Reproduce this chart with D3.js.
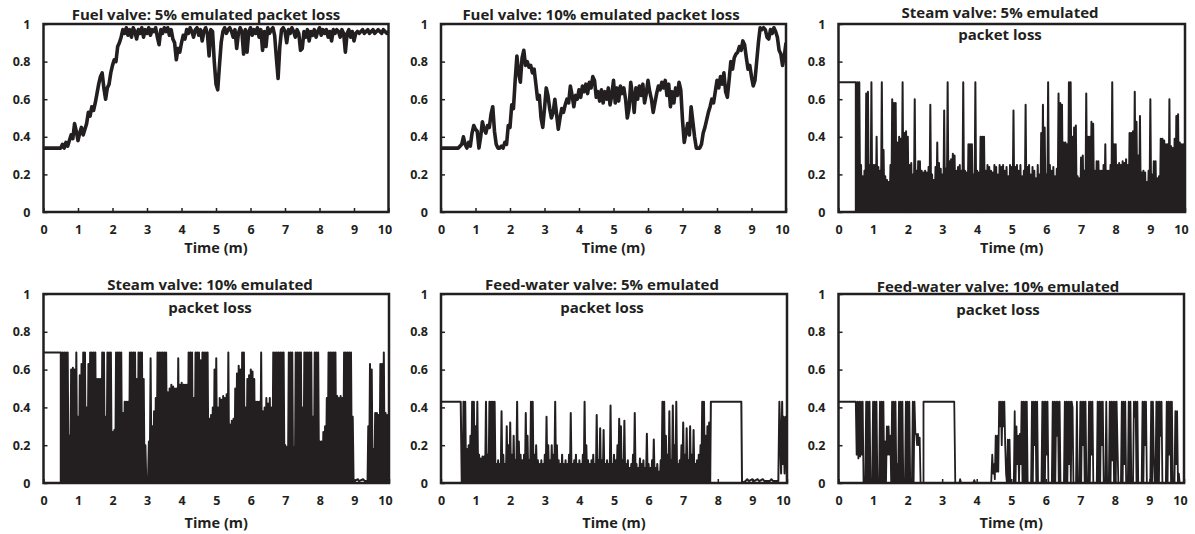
<!DOCTYPE html>
<html>
<head>
<meta charset="utf-8">
<script src="https://cdn.jsdelivr.net/npm/d3@7"></script>
<style>
  body { margin: 0; background: #fff; }
  svg text { font-family: "Open Sans", Lato, sans-serif; font-weight: 700; fill: #231f20; }
</style>
</head>
<body>
<div id="chart"></div>
<script>
// ---- data ----
const xTicks = [0, 1, 2, 3, 4, 5, 6, 7, 8, 9, 10];
const yTicks = [0, 0.2, 0.4, 0.6, 0.8, 1];
const xLabel = "Time (m)";

const titles = [
  ["Fuel valve: 5% emulated packet loss"],
  ["Fuel valve: 10% emulated packet loss"],
  ["Steam valve: 5% emulated", "packet loss"],
  ["Steam valve: 10% emulated", "packet loss"],
  ["Feed-water valve: 5% emulated", "packet loss"],
  ["Feed-water valve: 10% emulated", "packet loss"]
];

// fuel valve position, one sample every 0.05 min from t = 0
const fuel5Pos = [
  .34,.34,.34,.34,.34,.34,.34,.34,.34,.34,
  .34,.36,.34,.37,.35,.38,.41,.39,.47,.43,
  .38,.42,.45,.41,.44,.47,.53,.51,.56,.54,
  .58,.63,.68,.72,.74,.66,.60,.66,.68,.74,
  .78,.81,.80,.88,.90,.93,.97,.95,.98,.94,
  .97,.93,.98,.96,.92,.97,.95,.98,.93,.97,
  .95,.98,.94,.97,.96,.98,.93,.89,.97,.95,
  .98,.96,.98,.94,.97,.92,.90,.81,.87,.85,
  .90,.94,.92,.97,.95,.98,.96,.93,.97,.98,
  .94,.97,.91,.96,.98,.95,.83,.97,.96,.80,
  .68,.65,.78,.90,.96,.98,.95,.97,.98,.96,
  .93,.97,.87,.95,.98,.96,.84,.97,.85,.96,
  .98,.94,.97,.95,.98,.93,.97,.86,.96,.88,
  .98,.95,.97,.98,.94,.82,.71,.88,.97,.98,
  .96,.90,.97,.95,.98,.96,.93,.97,.95,.86,
  .87,.96,.93,.97,.91,.96,.94,.97,.93,.96,
  .98,.94,.97,.95,.97,.93,.96,.91,.97,.95,
  .97,.96,.93,.97,.95,.85,.95,.97,.93,.96,
  .91,.95,.96,.95,.96,.97,.95,.96,.97,.95,
  .96,.97,.95,.96,.97,.96,.95,.97,.96,.95,
  .96
];

const fuel10Pos = [
  .34,.34,.34,.34,.34,.34,.34,.34,.34,.34,
  .34,.35,.36,.40,.36,.34,.37,.35,.42,.46,
  .44,.43,.34,.40,.48,.44,.42,.46,.45,.52,
  .56,.43,.36,.34,.34,.35,.34,.37,.36,.46,
  .45,.57,.55,.70,.83,.74,.69,.82,.86,.78,
  .80,.77,.78,.74,.76,.68,.60,.62,.50,.45,
  .55,.66,.62,.55,.50,.53,.60,.52,.44,.50,
  .55,.53,.57,.60,.58,.67,.62,.56,.62,.60,
  .65,.61,.67,.64,.68,.63,.69,.66,.72,.70,
  .61,.64,.59,.65,.58,.64,.60,.66,.57,.62,
  .70,.58,.66,.59,.67,.63,.66,.60,.50,.55,
  .69,.62,.53,.66,.60,.67,.62,.68,.58,.63,
  .70,.64,.60,.53,.58,.63,.67,.65,.69,.66,
  .70,.62,.68,.56,.64,.58,.66,.62,.69,.65,
  .49,.37,.42,.47,.41,.56,.48,.40,.34,.34,
  .34,.36,.42,.45,.49,.53,.56,.60,.58,.64,
  .70,.66,.72,.68,.74,.64,.61,.70,.80,.76,
  .82,.84,.85,.88,.86,.91,.89,.82,.76,.78,
  .72,.67,.70,.80,.90,.98,.97,.98,.97,.93,
  .92,.97,.95,.98,.96,.93,.86,.84,.78,.83,
  .90
];

// steam valve: hold, then pulses (peak every 0.05 min, falling back to 0 between)
const steam5Lead = [[0, 0.69], [0.5, 0.69], [0.5, 0], [0.54, 0]];
const steam5Peaks = [
  .69,.69,.25,.19,.22,.63,.64,.25,.69,.25,
  .25,.40,.24,.22,.69,.33,.19,.17,.16,.25,
  .60,.58,.58,.37,.40,.39,.69,.42,.43,.40,
  .25,.26,.20,.60,.22,.27,.27,.22,.21,.22,
  .21,.24,.57,.20,.17,.24,.37,.26,.23,.20,
  .54,.23,.69,.27,.28,.31,.30,.22,.24,.25,
  .22,.69,.22,.21,.36,.36,.36,.20,.69,.22,
  .21,.40,.40,.40,.22,.25,.24,.22,.21,.25,
  .24,.20,.25,.24,.25,.22,.24,.19,.25,.24,
  .54,.24,.25,.22,.25,.19,.22,.57,.24,.25,
  .20,.24,.22,.18,.25,.20,.42,.57,.45,.20,
  .69,.25,.22,.24,.19,.23,.63,.58,.57,.37,
  .37,.36,.69,.69,.40,.45,.46,.19,.18,.29,
  .30,.22,.63,.40,.40,.48,.47,.22,.27,.27,
  .22,.22,.25,.36,.22,.22,.25,.69,.36,.36,
  .25,.26,.25,.27,.26,.28,.25,.42,.42,.43,
  .64,.48,.30,.51,.21,.22,.21,.16,.22,.60,
  .20,.27,.27,.18,.19,.39,.39,.38,.36,.36,
  .60,.35,.34,.39,.51,.52,.37,.36,.36,.03
];

const steam10Lead = [[0, 0.69], [0.5, 0.69], [0.5, 0], [0.54, 0]];
const steam10PeaksA = [
  .69,.69,.69,.69,.25,.60,.61,.60,.69,.35,
  .57,.63,.69,.69,.40,.63,.69,.69,.69,.69,
  .55,.55,.55,.69,.69,.35,.69,.69,.69,.27,
  .28,.69,.69,.69,.69,.37,.43,.43,.43,.69,
  .69,.69,.69,.55,.69,.69,.69,.55,.20,.02,
  .22,.66,.30,.38,.45,.69,.69,.69,.69,.69,
  .69,.48,.50,.52,.51,.50,.50,.66,.52,.53,
  .52,.52,.52,.69,.69,.69,.45,.69,.69,.69,
  .65,.69,.69,.69,.69,.34,.36,.40,.60,.66,
  .40,.45,.44,.46,.45,.47,.69,.31,.33,.34,
  .50,.58,.62,.60,.69,.69,.40,.55,.57,.60,
  .59,.55,.43,.43,.43,.69,.38,.40,.45,.42,
  .45,.40,.69,.69,.69,.69,.69,.69,.69,.20,
  .19,.69,.69,.69,.19,.69,.69,.69,.69,.40,
  .69,.69,.69,.69,.69,.35,.69,.69,.69,.22,
  .22,.27,.30,.45,.69,.69,.69,.69,.69,.46,
  .45,.46,.45,.69,.69,.69,.69,.69,.35
];
const steam10Gap = [[9.0, 0.01], [9.1, 0.02], [9.13, 0.01], [9.25, 0.02], [9.3, 0.01], [9.38, 0.01]];
const steam10PeaksB = [.30,.63,.60,.18,.37,.37,.36,.63,.63,.69,.37,.36];
const steam10Tail = [[10, 0]];

// feed-water valve
const feed5Lead = [[0, 0.43], [0.57, 0.43], [0.6, 0]];
const feed5Peaks = [
  .20,.43,.43,.18,.20,.25,.43,.43,.30,.43,
  .15,.13,.14,.14,.43,.15,.43,.43,.43,.43,
  .10,.12,.10,.38,.15,.10,.30,.20,.32,.15,
  .25,.12,.43,.22,.15,.12,.15,.37,.25,.12,
  .43,.43,.15,.20,.12,.10,.12,.10,.15,.35,
  .20,.12,.20,.15,.43,.20,.12,.10,.15,.10,
  .12,.10,.15,.37,.10,.12,.15,.10,.12,.10,
  .15,.43,.20,.12,.10,.12,.15,.10,.36,.12,
  .29,.12,.28,.10,.12,.10,.41,.10,.15,.12,
  .20,.34,.30,.12,.33,.10,.12,.08,.10,.15,
  .37,.10,.08,.13,.10,.12,.08,.26,.10,.08,
  .12,.23,.08,.10,.06,.12,.43,.43,.25,.15,
  .38,.12,.41,.20,.43,.10,.12,.20,.32,.15,
  .29,.12,.30,.15,.28,.10,.12,.15,.20,.43,
  .43,.25,.30,.32
];
const feed5Tail = [
  [7.78, 0], [7.8, 0.43], [8.68, 0.43], [8.7, 0], [8.8, 0.01], [8.85, 0.02], [8.9, 0.01],
  [9.0, 0.02], [9.05, 0.01], [9.15, 0.02], [9.2, 0.01], [9.3, 0.02], [9.35, 0.01],
  [9.5, 0.01], [9.55, 0.02], [9.6, 0.01], [9.75, 0.01], [9.78, 0.43], [9.83, 0.05],
  [9.86, 0.43], [9.88, 0.1], [9.9, 0.35], [9.93, 0.05], [9.96, 0.35], [10, 0]
];

// feed-water 10%: high/low pairs every 0.05 min
const feed10Lead = [[0, 0.43], [0.48, 0.43]];
const feed10PairsA = [
  .43,.15, .43,.13, .43,.14, .43,.15, .43,0, .03,0, .43,0, .43,0, .43,0, 0,0,
  .43,0, .43,0, .43,0, 0,0, .43,0, .43,0, .43,0, .22,0, .30,.15, .30,.15,
  .25,0, .43,0, .43,0, .43,0, .10,0, .43,0, .43,0, .43,0, 0,0, .43,0,
  .43,0, .43,0, 0,0, .43,0, .43,.26, .26,.20, .26,.20, .24,0
];
const feed10Gap = [
  [2.42, 0], [2.46, 0], [2.46, 0.43], [3.35, 0.43], [3.38, 0], [3.5, 0], [3.52, 0.02],
  [3.55, 0], [3.9, 0], [3.93, 0.015], [3.96, 0], [4.42, 0]
];
const feed10PairsB = [
  .15,.05, .10,.02, .25,.06, .25,.06, .43,.30, .43,.20, .43,.30, .43,.20, .05,0, .23,0,
  .23,0, 0,0, 0,0, .38,0, .30,.10, .25,0, .26,.10, .43,0, .43,0, .43,0,
  .43,0, 0,0, 0,0, .43,0, .43,.20, .43,0, .43,0, 0,0, 0,0, .43,0,
  .43,0, .43,.15, .43,0, 0,0, 0,0, .43,0, .43,0, .43,.25, .43,0, .43,0,
  0,0, 0,0, .43,0, .43,0, .43,.10, .43,0, .43,.40, 0,0, 0,0, .43,0,
  0,0, .43,0, .43,.20, .43,0, .43,0, 0,0, .43,0, .43,.15, .43,0, 0,0,
  0,0, .43,0, .43,0, .43,.20, .43,0, 0,0, .43,0, 0,0, .43,0, .43,.12,
  .43,0, .43,0, .43,.20, 0,0, 0,0, .43,0, .43,.10, .43,0, 0,0, .43,0,
  .43,0, 0,0, .43,.35, .43,0, .43,0, 0,0, 0,0, .43,0, .43,.20, .43,0,
  0,0, 0,0, .43,0, .43,.15, 0,0, .43,0, .43,0, .43,.25, .43,0, 0,0,
  0,0, .43,0, .43,.15, .43,0, .43,0, 0,0, .38,.10, .38,0, .05,0, 0,0,
  0,0, 0
];

// ---- series assembly ----
const series = [
  [{ start: 0, step: 0.05, values: fuel5Pos }],
  [{ start: 0, step: 0.05, values: fuel10Pos }],
  [{ points: steam5Lead }, { start: 0.55, step: 0.05, peaks: steam5Peaks, floor: 0 }],
  [{ points: steam10Lead }, { start: 0.55, step: 0.05, peaks: steam10PeaksA, floor: 0 },
   { points: steam10Gap }, { start: 9.4, step: 0.05, peaks: steam10PeaksB, floor: 0 },
   { points: steam10Tail }],
  [{ points: feed5Lead }, { start: 0.6, step: 0.05, peaks: feed5Peaks, floor: 0 },
   { points: feed5Tail }],
  [{ points: feed10Lead }, { start: 0.5, step: 0.025, values: feed10PairsA },
   { points: feed10Gap }, { start: 4.45, step: 0.025, values: feed10PairsB }]
];

function build(blocks) {
  const pts = [];
  blocks.forEach(b => {
    if (b.points) b.points.forEach(p => pts.push(p));
    else if (b.peaks) b.peaks.forEach((v, i) => {
      const t = b.start + i * b.step;
      pts.push([t, v]);
      pts.push([t + b.step / 2, b.floor]);
    });
    else b.values.forEach((v, i) => pts.push([b.start + i * b.step, v]));
  });
  return pts;
}

// ---- layout ----
const width = 1195, height = 534;
const ink = "#231f20";
const layout = [
  { x0: 43.5, x1: 388.5, y0: 24, y1: 212, titleX: 206, titleY: [15], timeY: 248, lw: 3.6 },
  { x0: 441, x1: 786, y0: 24, y1: 212, titleX: 601, titleY: [15], timeY: 248, lw: 3.6 },
  { x0: 838.5, x1: 1185, y0: 24, y1: 212, titleX: 1000, titleY: [13, 35], timeY: 248, lw: 2 },
  { x0: 43.5, x1: 389, y0: 294, y1: 483, titleX: 210, titleY: [285, 308], timeY: 523, lw: 2 },
  { x0: 441, x1: 787, y0: 294, y1: 483, titleX: 602, titleY: [285, 308], timeY: 523, lw: 2 },
  { x0: 838.5, x1: 1184, y0: 294, y1: 483, titleX: 998, titleY: [287, 310], timeY: 523, lw: 1.8 }
];

const svg = d3.select("#chart").append("svg")
  .attr("width", width)
  .attr("height", height);

layout.forEach((L, i) => {
  const x = d3.scaleLinear().domain([0, 10]).range([L.x0, L.x1]);
  const y = d3.scaleLinear().domain([0, 1]).range([L.y1, L.y0]);
  const g = svg.append("g");

  g.append("clipPath").attr("id", "clip" + i)
    .append("rect")
    .attr("x", L.x0).attr("y", L.y0)
    .attr("width", L.x1 - L.x0).attr("height", L.y1 - L.y0);

  // series
  const line = d3.line().x(d => x(d[0])).y(d => y(d[1]));
  g.append("path")
    .datum(build(series[i]))
    .attr("clip-path", `url(#clip${i})`)
    .attr("d", line)
    .attr("fill", "none")
    .attr("stroke", ink)
    .attr("stroke-width", L.lw)
    .attr("stroke-linejoin", "round");

  // axes (ticks point inward)
  const yAxis = g.append("g")
    .attr("transform", `translate(${L.x0},0)`)
    .call(d3.axisLeft(y).tickValues(yTicks).tickSize(-4).tickSizeOuter(0)
      .tickPadding(13).tickFormat(d3.format("")));
  const xAxis = g.append("g")
    .attr("transform", `translate(0,${L.y1})`)
    .call(d3.axisBottom(x).tickValues(xTicks).tickSize(-4).tickSizeOuter(0)
      .tickPadding(13).tickFormat(d3.format("")));
  [yAxis, xAxis].forEach(a => {
    a.select(".domain").remove();
    a.selectAll("line").attr("stroke", ink).attr("stroke-width", 1.5);
    a.selectAll("text").attr("font-size", 12.5).attr("fill", ink)
      .style("font-family", "'Open Sans', Lato, sans-serif").style("font-weight", 700);
  });
  xAxis.selectAll(".tick:last-of-type text").attr("dx", -4);

  // frame
  g.append("rect")
    .attr("x", L.x0).attr("y", L.y0)
    .attr("width", L.x1 - L.x0).attr("height", L.y1 - L.y0)
    .attr("fill", "none")
    .attr("stroke", ink)
    .attr("stroke-width", 2.5);

  // title
  titles[i].forEach((t, k) => {
    g.append("text")
      .attr("x", L.titleX)
      .attr("y", L.titleY[k] + 5)
      .attr("text-anchor", "middle")
      .attr("font-size", 15)
      .text(t);
  });

  g.append("text")
    .attr("x", (L.x0 + L.x1) / 2)
    .attr("y", L.timeY + 5)
    .attr("text-anchor", "middle")
    .attr("font-size", 14.5)
    .text(xLabel);
});
</script>
</body>
</html>
